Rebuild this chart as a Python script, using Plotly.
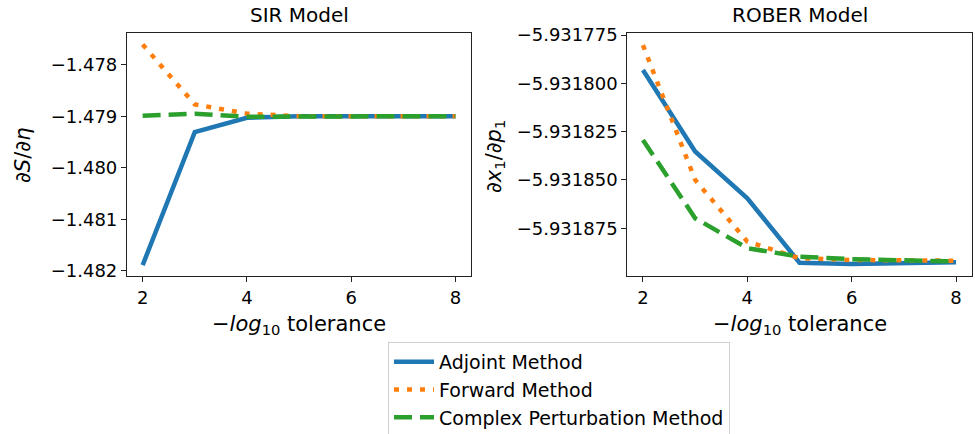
import plotly.graph_objects as go

tol = [2, 3, 4, 5, 6, 7, 8]

sir_adjoint = [-1.48189, -1.47931, -1.47903, -1.47900, -1.47900, -1.47900, -1.47900]
sir_forward = [-1.47761, -1.47877, -1.47895, -1.47900, -1.47900, -1.47900, -1.47900]
sir_complex = [-1.47899, -1.47895, -1.47901, -1.47900, -1.47900, -1.47900, -1.47900]

rober_adjoint = [-5.9317931, -5.9318353, -5.9318595, -5.9318928, -5.9318935, -5.9318931, -5.9318926]
rober_forward = [-5.9317802, -5.9318500, -5.9318819, -5.9318905, -5.9318914, -5.9318916, -5.9318918]
rober_complex = [-5.9318293, -5.9318698, -5.9318853, -5.9318897, -5.9318910, -5.9318918, -5.9318922]

sir_ticks = [-1.482, -1.481, -1.480, -1.479, -1.478]
rober_ticks = [-5.931875, -5.931850, -5.931825, -5.931800, -5.931775]
x_ticks = [2, 4, 6, 8]

names = ["Adjoint Method", "Forward Method", "Complex Perturbation Method"]
colors = ["#1f77b4", "#ff7f0e", "#2ca02c"]
dashes = ["solid", "5px,8px", "18px,8px"]
widths = [4.5, 4.5, 4.5]

FONT = "DejaVu Sans"
fig = go.Figure()

for i, ys in enumerate([sir_adjoint, sir_forward, sir_complex]):
    fig.add_trace(go.Scatter(x=tol, y=ys, mode="lines", name=names[i],
                             line=dict(color=colors[i], width=widths[i], dash=dashes[i]),
                             xaxis="x", yaxis="y", showlegend=True))
for i, ys in enumerate([rober_adjoint, rober_forward, rober_complex]):
    fig.add_trace(go.Scatter(x=tol, y=ys, mode="lines", name=names[i],
                             line=dict(color=colors[i], width=widths[i], dash=dashes[i]),
                             xaxis="x2", yaxis="y2", showlegend=False))

W, H = 975, 434
L1, R1 = 127, 471
L2, R2 = 627.3, 971.7
T, B = 32.7, 276

axis_common = dict(showgrid=False, zeroline=False, showline=True, linecolor="#222222",
                   linewidth=1.2, mirror=True, ticks="outside", ticklen=5, tickwidth=1.2,
                   tickcolor="#222222", automargin=False,
                   tickfont=dict(family=FONT, size=18, color="black"))

fig.update_layout(
    width=W, height=H,
    margin=dict(l=0, r=0, t=0, b=0, autoexpand=False),
    paper_bgcolor="white", plot_bgcolor="white",
    font=dict(family=FONT, color="black"),
    xaxis=dict(domain=[L1 / W, R1 / W], range=[1.7, 8.3], tickvals=x_ticks,
               anchor="y", **axis_common),
    yaxis=dict(domain=[1 - B / H, 1 - T / H], range=[-1.4821, -1.47738],
               tickvals=sir_ticks, tickformat=".3f", anchor="x", **axis_common),
    xaxis2=dict(domain=[L2 / W, R2 / W], range=[1.7, 8.3], tickvals=x_ticks,
                anchor="y2", **axis_common),
    yaxis2=dict(domain=[1 - B / H, 1 - T / H], range=[-5.9318997, -5.9317738],
                tickvals=rober_ticks, tickformat=".6f", anchor="x2", **axis_common),
    legend=dict(x=388 / W, y=1 - 342 / H, xanchor="left", yanchor="top",
                bordercolor="#d0d0d0", borderwidth=1, bgcolor="white",
                font=dict(family=FONT, size=19, color="black"),
                itemwidth=40, tracegroupgap=0),
    showlegend=True,
)

ann = []
ann.append(dict(text="SIR Model", x=(L1 + R1) / 2 / W, y=1 - 15 / H, xref="paper", yref="paper",
                showarrow=False, xanchor="center", yanchor="middle",
                font=dict(family=FONT, size=20, color="black")))
ann.append(dict(text="ROBER Model", x=(L2 + R2) / 2 / W, y=1 - 15 / H, xref="paper", yref="paper",
                showarrow=False, xanchor="center", yanchor="middle",
                font=dict(family=FONT, size=20, color="black")))
xt = "−<i>log</i><sub>10</sub> tolerance"
for cx in [(L1 + R1) / 2, (L2 + R2) / 2]:
    ann.append(dict(text=xt, x=cx / W, y=1 - 325 / H, xref="paper", yref="paper",
                    showarrow=False, xanchor="center", yanchor="middle",
                    font=dict(family=FONT, size=21, color="black")))
ann.append(dict(text="∂<i>S</i>/∂<i>η</i>", x=23 / W, y=1 - 156 / H, xref="paper", yref="paper",
                showarrow=False, xanchor="center", yanchor="middle", textangle=-90,
                font=dict(family=FONT, size=21, color="black")))
ann.append(dict(text="∂<i>x</i><sub>1</sub>/∂<i>p</i><sub>1</sub>", x=495 / W, y=1 - 157 / H,
                xref="paper", yref="paper",
                showarrow=False, xanchor="center", yanchor="middle", textangle=-90,
                font=dict(family=FONT, size=21, color="black")))
fig.update_layout(annotations=ann)

fig.write_html("out.html", config={"displayModeBar": False},
               post_script="document.body.style.margin='0';document.body.style.padding='0';")
